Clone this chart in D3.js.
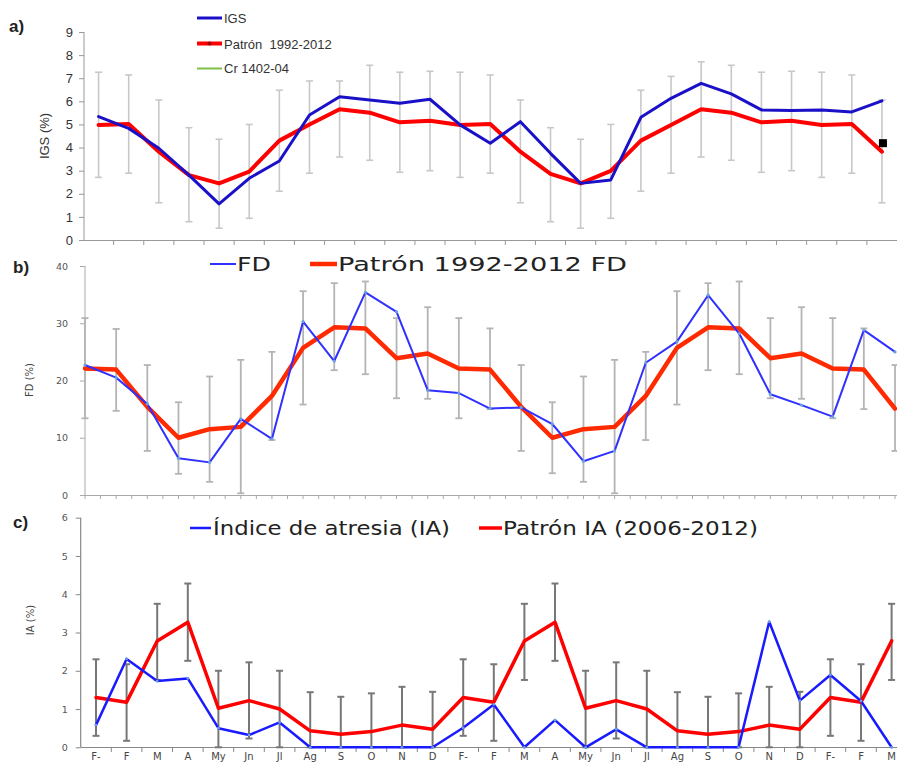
<!DOCTYPE html>
<html><head><meta charset="utf-8">
<script src="https://cdn.jsdelivr.net/npm/d3@7"></script>
<style>body{margin:0;background:#fff}svg{display:block}</style>
</head><body>
<svg id="c" width="897" height="763"></svg>
<script>
const months = ["F-","F","M","A","My","Jn","Jl","Ag","S","O","N","D","F-","F","M","A","My","Jn","Jl","Ag","S","O","N","D","F-","F","M"];

// Panel a: IGS
const igs = [5.34,4.83,3.97,2.81,1.56,2.67,3.42,5.41,6.2,6.06,5.92,6.09,4.98,4.19,5.12,3.75,2.45,2.6,5.31,6.13,6.78,6.32,5.63,5.6,5.63,5.54,6.02];
const patronIGS = [4.98,5.02,3.82,2.81,2.45,2.96,4.3,5.0,5.66,5.51,5.09,5.16,4.98,5.02,3.82,2.86,2.45,2.99,4.3,4.98,5.66,5.51,5.09,5.16,4.98,5.02,3.82];
const igsHi = [7.26,7.14,6.06,4.86,4.36,5.0,6.48,6.88,6.88,7.56,7.26,7.3,7.26,7.14,6.06,4.86,4.36,5.0,6.48,7.08,7.71,7.56,7.26,7.3,7.26,7.14,6.06];
const igsLo = [2.71,2.89,1.61,0.79,0.51,0.94,2.11,2.89,3.59,3.45,2.93,3.0,2.71,2.89,1.61,0.79,0.51,0.94,2.11,2.89,3.59,3.45,2.93,3.0,2.71,2.89,1.61];
const crIndex = [26];
const crValue = [4.19];
const igsTicks = [0,1,2,3,4,5,6,7,8,9];

// Panel b: FD
const fd = [22.7,20.5,15.9,6.4,5.7,13.3,9.8,30.3,23.4,35.4,32.0,18.3,17.8,15.1,15.3,12.4,5.9,7.7,23.1,26.8,34.9,28.2,17.6,15.7,13.7,28.8,25.0];
const patronFD = [22.1,21.9,15.4,10.0,11.5,11.9,17.3,25.7,29.3,29.1,23.9,24.7,22.1,21.9,15.4,10.0,11.5,11.9,17.3,25.7,29.3,29.1,23.9,24.7,22.1,21.9,15.1];
const fdHi = [30.9,29.0,22.7,16.2,20.7,23.6,25.0,35.6,37.0,37.3,30.9,32.8,30.9,29.1,22.7,16.2,20.7,23.6,25.0,35.6,37.0,37.3,30.9,32.8,30.9,29.1,22.7];
const fdLo = [13.4,14.7,7.7,3.7,2.3,0.3,9.6,15.8,21.8,21.1,16.9,16.8,13.4,15.0,7.7,3.8,2.3,0.3,9.6,15.8,21.8,21.1,16.9,16.8,13.4,15.0,7.7];
const fdTicks = [0,10,20,30,40];

// Panel c: IA
const ia = [0.58,2.31,1.73,1.80,0.50,0.32,0.65,0,0,0,0,0,0.51,1.12,0,0.71,0,0.47,0,0,0,0,3.28,1.22,1.89,1.21,0];
const patronIA = [1.30,1.18,2.78,3.27,1.02,1.22,1.0,0.43,0.34,0.41,0.58,0.47,1.30,1.18,2.78,3.27,1.02,1.22,1.0,0.43,0.34,0.41,0.58,0.47,1.30,1.18,2.78];
const iaHi = [2.30,2.17,3.75,4.28,2.0,2.22,2.0,1.44,1.32,1.41,1.58,1.45,2.30,2.17,3.75,4.28,2.0,2.22,2.0,1.44,1.32,1.41,1.58,1.45,2.30,2.17,3.75];
const iaLo = [0.30,0.17,1.76,2.26,0,0.23,0,0,0,0,0,0,0.30,0.17,1.76,2.26,0,0.23,0,0,0,0,0,0,0.30,0.17,1.76];
const iaTicks = [0,1,2,3,4,5,6];

const svg = d3.select("#c");
const idx = d3.range(months.length);

function errorBars(g, x, y, hi, lo, color, w, cap){
  const eb = g.append("g");
  idx.forEach(i=>{
    const cx = x(i);
    eb.append("line").attr("x1",cx).attr("x2",cx).attr("y1",y(hi[i])).attr("y2",y(lo[i]))
      .attr("stroke",color).attr("stroke-width",w);
    [hi[i],lo[i]].forEach(v=>{
      eb.append("line").attr("x1",cx-cap).attr("x2",cx+cap).attr("y1",y(v)).attr("y2",y(v))
        .attr("stroke",color).attr("stroke-width",w);
    });
  });
}
function line(g,x,y,data,color,w){
  g.append("path").datum(data)
    .attr("d", d3.line().x((d,i)=>x(i)).y(d=>y(d)))
    .attr("fill","none").attr("stroke",color).attr("stroke-width",w)
    .attr("stroke-linejoin","round").attr("stroke-linecap","round");
}

// ---------- Panel a ----------
{
  const band = d3.scaleBand().domain(idx).range([83.5,897]).padding(0);
  const x = i => band(i)+band.bandwidth()/2;
  const y = d3.scaleLinear().domain([0,9]).range([240,32]);
  const g = svg.append("g");
  const yAx = g.append("g").attr("transform","translate(84,0)")
    .call(d3.axisLeft(y).tickValues(igsTicks).tickSize(5).tickFormat(d3.format("d")));
  yAx.select(".domain").attr("stroke","#999").attr("d","M0,32V240");
  yAx.selectAll(".tick line").attr("stroke","#999");
  yAx.selectAll(".tick text").attr("font-family","Liberation Sans, Arial, sans-serif").attr("font-size",13).attr("fill","#333").attr("x",-11);
  const xAx = g.append("g").attr("transform","translate(0,240)")
    .call(d3.axisBottom(band).tickValues([]).tickSizeOuter(0));
  xAx.select(".domain").attr("stroke","#999").attr("d","M84,0.5H897");
  g.append("g").selectAll("line").data(idx.slice(1)).join("line")
    .attr("x1",i=>band(i)).attr("x2",i=>band(i)).attr("y1",240).attr("y2",245).attr("stroke","#999");
  g.append("text").attr("transform","translate(49,136) rotate(-90)").attr("text-anchor","middle")
    .attr("font-family","Liberation Sans, Arial, sans-serif").attr("font-size",13).attr("fill","#333").text("IGS (%)");
  errorBars(g,x,y,igsHi,igsLo,"#c8c8c8",1.6,3.5);
  line(g,x,y,patronIGS,"#ff0000",4);
  line(g,x,y,igs,"#1a10c8",3);
  g.selectAll(".cr").data(crIndex).join("rect").attr("class","cr")
    .attr("x",(d)=>x(d)-4+1).attr("y",(d,i)=>y(crValue[i])-4).attr("width",8).attr("height",8).attr("fill","#000");
  // legend
  const L = g.append("g").attr("font-family","Liberation Sans, Arial, sans-serif").attr("font-size",13).attr("fill","#333");
  L.append("line").attr("x1",197).attr("x2",222).attr("y1",18).attr("y2",18).attr("stroke","#1a10c8").attr("stroke-width",3);
  L.append("text").attr("x",224).attr("y",22.5).text("IGS");
  L.append("line").attr("x1",197).attr("x2",222).attr("y1",43.5).attr("y2",43.5).attr("stroke","#ff0000").attr("stroke-width",4);
  L.append("circle").attr("cx",209.5).attr("cy",43.5).attr("r",2).attr("fill","#a00000");
  L.append("text").attr("x",224).attr("y",48.5).text("Patrón\u00a0 1992-2012");
  L.append("line").attr("x1",197).attr("x2",222).attr("y1",68.5).attr("y2",68.5).attr("stroke","#7cc04a").attr("stroke-width",2);
  L.append("text").attr("x",224).attr("y",72.5).text("Cr 1402-04");
  g.append("text").attr("x",9).attr("y",32).attr("font-family","Liberation Sans, Arial, sans-serif").attr("font-size",17).attr("font-weight","bold").attr("fill","#222").text("a)");
}

// ---------- Panel b ----------
{
  const x = d3.scalePoint().domain(idx).range([85,895]);
  const y = d3.scaleLinear().domain([0,40]).range([495,266]);
  const g = svg.append("g");
  const yAx = g.append("g").attr("transform","translate(85,0)")
    .call(d3.axisLeft(y).tickValues(fdTicks).tickSize(5).tickFormat(d3.format("d")));
  yAx.select(".domain").attr("stroke","#aaa").attr("d","M0,266V495");
  yAx.selectAll(".tick line").attr("stroke","#aaa");
  yAx.selectAll(".tick text").attr("font-family","DejaVu Sans, sans-serif").attr("font-size",9.5).attr("fill","#555").attr("x",-17);
  g.append("line").attr("x1",85).attr("x2",897).attr("y1",495.5).attr("y2",495.5).attr("stroke","#aaa");
  const half = d3.range(0, months.length-0.5, 0.5);
  g.append("g").selectAll("line").data(half).join("line")
    .attr("x1",d=>x(0)+d*x.step()).attr("x2",d=>x(0)+d*x.step()).attr("y1",495).attr("y2",499).attr("stroke","#aaa");
  g.append("text").attr("transform","translate(33,380) rotate(-90)").attr("text-anchor","middle")
    .attr("font-family","DejaVu Sans, sans-serif").attr("font-size",10).attr("fill","#444").text("FD (%)");
  errorBars(g,x,y,fdHi,fdLo,"#b4b4b4",1.8,3.5);
  line(g,x,y,patronFD,"#ff2a00",4.5);
  line(g,x,y,fd,"#3030ff",2);
  g.selectAll(".fdm").data(fd).join("circle").attr("class","fdm")
    .attr("cx",(d,i)=>x(i)).attr("cy",d=>y(d)).attr("r",1.6).attr("fill","#6aa0e0");
  const L = g.append("g").attr("font-family","DejaVu Sans, sans-serif").attr("font-size",20).attr("fill","#222");
  L.append("line").attr("x1",210).attr("x2",236).attr("y1",264).attr("y2",264).attr("stroke","#3030ff").attr("stroke-width",2);
  L.append("text").attr("x",237).attr("y",271).attr("textLength",34).attr("lengthAdjust","spacingAndGlyphs").text("FD");
  L.append("line").attr("x1",310).attr("x2",337).attr("y1",264).attr("y2",264).attr("stroke","#ff2a00").attr("stroke-width",4.5);
  L.append("text").attr("x",338).attr("y",271).attr("textLength",289).attr("lengthAdjust","spacingAndGlyphs").text("Patrón 1992-2012 FD");
  g.append("text").attr("x",13).attr("y",273).attr("font-family","Liberation Sans, Arial, sans-serif").attr("font-size",17).attr("font-weight","bold").attr("fill","#222").text("b)");
}

// ---------- Panel c ----------
{
  const band = d3.scaleBand().domain(idx).range([80.7,80.7+27*30.6]).padding(0);
  const x = i => band(i)+band.bandwidth()/2;
  const y = d3.scaleLinear().domain([0,6]).range([747.3,517.7]);
  const g = svg.append("g");
  const yAx = g.append("g").attr("transform","translate(80.7,0)")
    .call(d3.axisLeft(y).tickValues(iaTicks).tickSize(5).tickFormat(d3.format("d")));
  yAx.select(".domain").attr("stroke","#888").attr("stroke-width",1.2).attr("d","M0,517.7V747.3");
  yAx.selectAll(".tick line").attr("stroke","#888");
  yAx.selectAll(".tick text").attr("font-family","DejaVu Sans, sans-serif").attr("font-size",9.5).attr("fill","#555").attr("x",-13);
  g.append("line").attr("x1",80.7).attr("x2",897).attr("y1",747.5).attr("y2",747.5).attr("stroke","#888").attr("stroke-width",1.2);
  g.append("g").selectAll("line").data(idx.slice(1)).join("line")
    .attr("x1",i=>band(i)).attr("x2",i=>band(i)).attr("y1",747).attr("y2",752).attr("stroke","#888");
  const xl = g.append("g").attr("transform","translate(0,747)")
    .call(d3.axisBottom(band).tickSize(0).tickFormat(i=>months[i]));
  xl.select(".domain").remove();
  xl.selectAll(".tick text").attr("font-family","DejaVu Sans, sans-serif").attr("font-size",10).attr("fill","#444").attr("y",6).attr("dy","0.71em");
  g.append("text").attr("transform","translate(34,620) rotate(-90)").attr("text-anchor","middle")
    .attr("font-family","DejaVu Sans, sans-serif").attr("font-size",10).attr("fill","#444").text("IA (%)");
  errorBars(g,x,y,iaHi,iaLo,"#777",2,3.5);
  line(g,x,y,patronIA,"#ff0000",3.5);
  line(g,x,y,ia,"#1a1aff",2.5);
  g.selectAll(".iam").data(ia).join("circle").attr("class","iam")
    .attr("cx",(d,i)=>x(i)).attr("cy",d=>y(d)).attr("r",1.4).attr("fill","#6aa0e0");
  const L = g.append("g").attr("font-family","DejaVu Sans, sans-serif").attr("font-size",19).attr("fill","#222");
  L.append("line").attr("x1",190).attr("x2",211).attr("y1",528).attr("y2",528).attr("stroke","#1a1aff").attr("stroke-width",2.5);
  L.append("text").attr("x",213).attr("y",535).attr("textLength",237).attr("lengthAdjust","spacingAndGlyphs").text("Índice de atresia (IA)");
  L.append("line").attr("x1",479).attr("x2",502).attr("y1",528).attr("y2",528).attr("stroke","#ff0000").attr("stroke-width",3.5);
  L.append("text").attr("x",503).attr("y",535).attr("textLength",255).attr("lengthAdjust","spacingAndGlyphs").text("Patrón IA (2006-2012)");
  g.append("text").attr("x",13).attr("y",528).attr("font-family","Liberation Sans, Arial, sans-serif").attr("font-size",17).attr("font-weight","bold").attr("fill","#222").text("c)");
}
</script>
</body></html>
